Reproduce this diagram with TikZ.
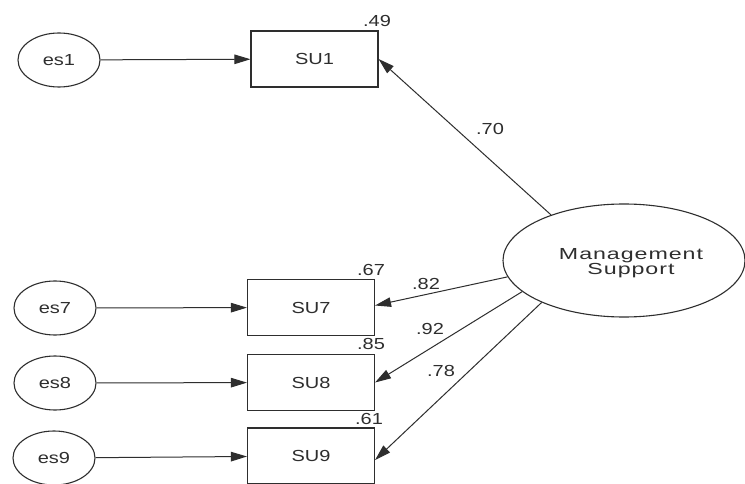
\documentclass[tikz,border=0pt]{standalone}
\usepackage{fontspec}
\setmainfont{Liberation Sans}[FakeStretch=1.25]
\newfontfamily\msfont{Liberation Sans}[FakeStretch=1.45,LetterSpace=6]
\usetikzlibrary{shapes.geometric,arrows.meta}
\definecolor{ink}{HTML}{2E2E2E}
\tikzset{
  lbl/.style={font=\fontsize{16}{16}\selectfont, text=ink, inner sep=0pt},
  errnode/.style={ellipse, draw=ink, line width=1.1pt, minimum width=82pt, minimum height=54pt, inner sep=0pt, font=\fontsize{16}{16}\selectfont, text=ink},
  obsbox/.style={rectangle, draw=ink, line width=1.1pt, minimum width=127pt, minimum height=56pt, inner sep=0pt, font=\fontsize{16}{16}\selectfont, text=ink},
  latent/.style={ellipse, draw=ink, line width=1.1pt, minimum width=242pt, minimum height=113pt, inner sep=0pt},
  conn/.style={draw=ink, line width=1pt, -{Triangle[length=16pt,width=9.5pt]}},
}
\begin{document}
\begin{tikzpicture}[x=1pt,y=-1pt]
\useasboundingbox (0,0) rectangle (745,484);
\fill[white] (0,0) rectangle (745,484);

\node[errnode] (es1) at (59,60) {es1};
\node[errnode] (es7) at (55,308) {es7};
\node[errnode] (es8) at (55,383) {es8};
\node[errnode] (es9) at (54,458) {es9};

\node[obsbox] (su1) at (314.5,59) {SU1};
\node[obsbox] (su7) at (311,307.5) {SU7};
\node[obsbox] (su8) at (311,382.5) {SU8};
\node[obsbox] (su9) at (311,456) {SU9};

\node[latent] (ms) at (624,260.5) {};
\node[font=\fontsize{16}{15}\selectfont\msfont, text=ink, align=center, inner sep=0pt] (mstext) at (631,263) {Management\\Support};

\draw[conn] (es1) -- (su1);
\draw[conn] (es7) -- (su7);
\draw[conn] (es8) -- (su8);
\draw[conn] (es9) -- (su9);

\draw[conn] (ms.148.4) -- (su1.east);
\draw[conn] (ms.188.4) -- ([yshift=2]su7.east);
\draw[conn] (ms.197.6) -- (su8.east);
\draw[conn] (ms.207.7) -- ([yshift=-4]su9.east);

\node[lbl] (r1) at (377,21) {.49};
\node[lbl] (r7) at (371,270) {.67};
\node[lbl] (r8) at (371,344) {.85};
\node[lbl] (r9) at (369,419) {.61};
\node[lbl] (l1) at (490,129) {.70};
\node[lbl] (l7) at (426,284) {.82};
\node[lbl] (l8) at (430,329) {.92};
\node[lbl] (l9) at (441,371) {.78};
\end{tikzpicture}
\end{document}
